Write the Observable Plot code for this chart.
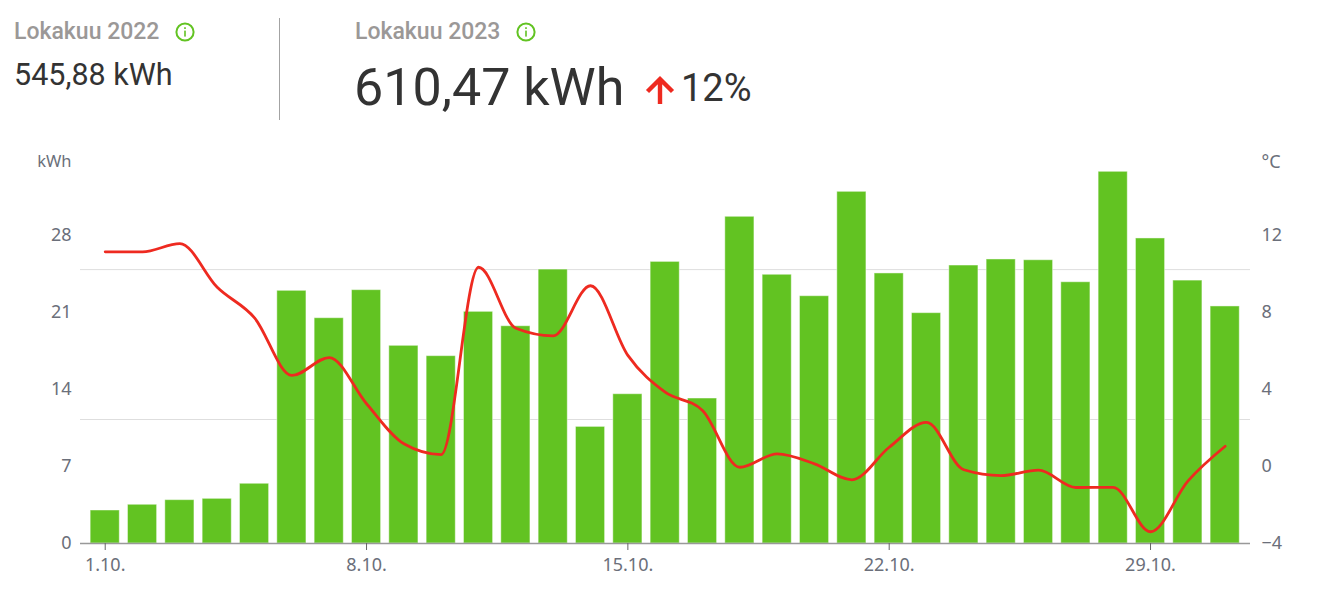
<!DOCTYPE html>
<html lang="fi">
<head>
<meta charset="utf-8">
<script src="https://cdn.jsdelivr.net/npm/d3@7"></script>
<script src="https://cdn.jsdelivr.net/npm/@observablehq/plot@0.6"></script>
<style>
html,body{margin:0;padding:0;background:#fff;overflow:hidden}
#wrap{position:relative;width:1321px;height:604px}
#head{position:absolute;left:0;top:0;width:1321px;height:140px;font-family:Roboto,sans-serif}
#head div,#head svg{position:absolute;white-space:nowrap;line-height:1}
.lab{color:#9b9897;font-size:23px;font-weight:500;top:20px}
.val{color:#333}
#chart{position:absolute;left:0;top:140px}
</style>
</head>
<body>
<div id="wrap">
<div id="head">
  <div class="lab" style="left:14px">Lokakuu 2022</div>
  <svg style="left:175px;top:22px" width="20" height="20" viewBox="0 0 20 20"><circle cx="10" cy="10" r="8.6" fill="none" stroke="#62c322" stroke-width="2"/><rect x="9.2" y="8.6" width="1.6" height="6" fill="#62c322"/><rect x="9.2" y="5.2" width="1.6" height="1.8" fill="#62c322"/></svg>
  <div class="val" style="left:14px;top:60px;font-size:30.5px">545,88 kWh</div>
  <div style="left:279px;top:18px;width:1px;height:102px;background:#a3a3a3"></div>
  <div class="lab" style="left:355px">Lokakuu 2023</div>
  <svg style="left:516px;top:22px" width="20" height="20" viewBox="0 0 20 20"><circle cx="10" cy="10" r="8.6" fill="none" stroke="#62c322" stroke-width="2"/><rect x="9.2" y="8.6" width="1.6" height="6" fill="#62c322"/><rect x="9.2" y="5.2" width="1.6" height="1.8" fill="#62c322"/></svg>
  <div class="val" style="left:354px;top:62px;font-size:52px">610,47 kWh</div>
  <svg style="left:645px;top:75px" width="30" height="29" viewBox="0 0 30 29"><path d="M15 29V4M2.5 16.5L15 4L27.5 16.5" fill="none" stroke="#ee2a20" stroke-width="4.4"/></svg>
  <div class="val" style="left:681px;top:69px;font-size:38px">12%</div>
</div>
<div id="chart"></div>
</div>
<script>
const days = d3.range(1, 32);
const kwh = [3.0,3.52,3.94,4.06,5.43,22.97,20.48,23.03,17.97,17.03,21.06,19.75,24.9,10.6,13.57,25.6,13.18,29.7,24.43,22.48,31.97,24.55,20.94,25.27,25.82,25.75,23.75,33.79,27.73,23.9,21.55];
const temp = [11.15,11.15,11.58,9.31,7.72,4.73,5.66,3.26,1.18,0.62,10.35,7.18,6.79,9.39,5.77,3.86,2.91,-0.04,0.66,0.14,-0.69,1.0,2.29,-0.17,-0.47,-0.19,-1.09,-1.08,-3.39,-0.76,1.05];
const kwhTicks = [0,7,14,21,28];
const tempTicks = [-4,0,4,8,12];
const xTicks = [1,8,15,22,29];
const gridLines = [11.27,24.9];
const unitLevel = 34.7;

// Secondary (temperature) axis shares the kWh scale through this linear mapping
const tempToKwh = d3.scaleLinear().domain([-4,12]).range([0,28]);
const halfBar = 0.39;
const tickColor = "#6b6f7a";

const chart = Plot.plot({
  width: 1321, height: 464,
  marginLeft: 80, marginRight: 71, marginTop: 7, marginBottom: 61,
  style: {fontFamily: "'Noto Sans', sans-serif", fontSize: "18px", background: "transparent", color: tickColor},
  x: {domain: [0.338, 31.678]},
  y: {domain: [0, 36]},
  marks: [
    Plot.ruleY(gridLines, {stroke: "#dedede", strokeWidth: 1}),
    Plot.rectY(days, {
      x1: d => d - halfBar, x2: d => d + halfBar,
      y1: 0, y2: (d, i) => kwh[i],
      fill: "#62c322", stroke: "#ffffff", strokeOpacity: 0.45, strokeWidth: 1
    }),
    Plot.ruleY([0], {stroke: "#999", strokeWidth: 1.5}),
    Plot.lineY(days, {
      x: d => d, y: (d, i) => tempToKwh(temp[i]),
      stroke: "#ee2a20", strokeWidth: 2.8, curve: "monotone-x"
    }),
    Plot.axisX({ticks: xTicks, tickFormat: d => `${d}.10.`, tickSize: 7, tickPadding: 8, label: null, stroke: "#666", fill: tickColor, fontSize: 18}),
    Plot.axisY({anchor: "left", ticks: kwhTicks, tickFormat: d => String(d), tickSize: 0, tickPadding: 9, label: null, fill: tickColor, fontSize: 18}),
    Plot.axisY({anchor: "right", ticks: tempTicks.map(t => tempToKwh(t)), tickFormat: d => String(Math.round(tempToKwh.invert(d))).replace("-", "−"), tickSize: 0, tickPadding: 11, label: null, fill: tickColor, fontSize: 18}),
    Plot.text(["kWh"], {y: unitLevel, frameAnchor: "left", dx: -9, textAnchor: "end", text: d => d, fill: tickColor, fontSize: 16.5}),
    Plot.text(["°C"], {y: unitLevel, frameAnchor: "right", dx: 11, textAnchor: "start", text: d => d, fill: tickColor, fontSize: 18})
  ]
});
document.getElementById("chart").appendChild(chart);
</script>
</body>
</html>
